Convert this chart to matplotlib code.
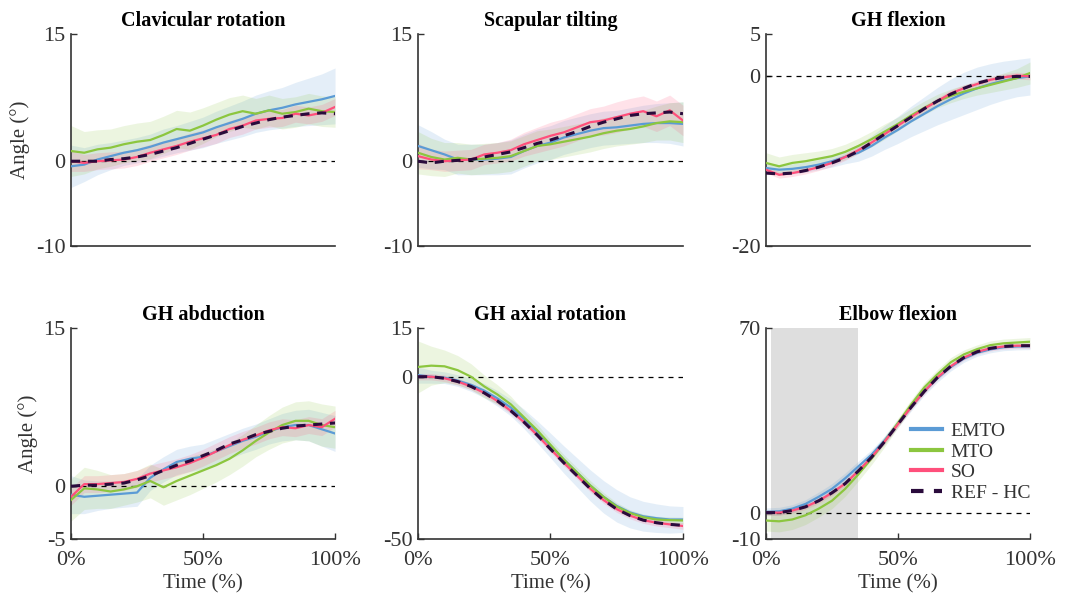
import numpy as np
import matplotlib
matplotlib.use("Agg")
from matplotlib import pyplot as plt

plt.rcParams['font.family'] = ['Liberation Serif', 'DejaVu Serif']

# time axis (% of movement), one sample every 5 %
t = np.arange(0, 101, 5)

titles = ['Clavicular rotation', 'Scapular tilting', 'GH flexion',
          'GH abduction', 'GH axial rotation', 'Elbow flexion']
ylims = [(-10, 15), (-10, 15), (-20, 5), (-5, 15), (-50, 15), (-10, 70)]

# mean curves per joint: EMTO, MTO, SO, REF - HC
emto = [
    [-0.6, -0.4, 0.2, 0.6, 1.0, 1.3, 1.7, 2.2, 2.6, 3.0, 3.4, 4.0, 4.5, 5.0, 5.6, 6.0, 6.3, 6.7, 7.0, 7.3, 7.7],
    [1.8, 1.3, 0.8, 0.2, 0.2, 0.2, 0.3, 0.5, 1.2, 1.8, 2.2, 2.8, 3.2, 3.6, 3.9, 4.0, 4.2, 4.4, 4.5, 4.5, 4.4],
    [-10.8, -11.0, -10.9, -10.7, -10.4, -10.0, -9.5, -9.0, -8.2, -7.2, -6.3, -5.3, -4.4, -3.5, -2.7, -2.0, -1.4, -0.9, -0.5, -0.2, 0.0],
    [-0.8, -1.0, -0.9, -0.8, -0.7, -0.6, 0.8, 1.6, 2.3, 2.6, 2.8, 3.3, 3.8, 4.3, 4.7, 5.2, 5.6, 5.8, 5.8, 5.4, 5.0],
    [0.5, 0.0, -0.3, -1.2, -2.5, -4.3, -6.7, -9.5, -13.0, -17.0, -21.2, -25.5, -29.5, -33.5, -37.0, -39.8, -41.8, -43.0, -43.6, -44.0, -44.0],
    [0.3, 0.5, 1.5, 3.3, 6.0, 9.0, 13.0, 17.5, 22.0, 27.5, 33.8, 40.0, 46.0, 51.0, 55.2, 58.4, 60.6, 61.9, 62.7, 63.0, 63.1],
]
mto = [
    [1.2, 1.0, 1.4, 1.6, 2.0, 2.3, 2.5, 3.1, 3.8, 3.6, 4.2, 4.9, 5.5, 5.9, 5.6, 6.0, 5.6, 5.8, 6.2, 5.9, 5.8],
    [1.0, 0.5, 0.2, 0.4, 0.2, 0.3, 0.4, 0.6, 1.2, 1.8, 2.0, 2.3, 2.6, 2.9, 3.3, 3.6, 3.8, 4.1, 4.5, 4.7, 4.6],
    [-10.2, -10.6, -10.2, -10.0, -9.7, -9.4, -8.9, -8.2, -7.4, -6.5, -5.6, -4.6, -3.7, -2.9, -2.3, -1.8, -1.4, -1.0, -0.6, -0.2, 0.4],
    [-1.3, -0.2, -0.3, -0.5, -0.3, 0.0, 0.5, -0.1, 0.5, 1.0, 1.5, 2.0, 2.6, 3.4, 4.3, 5.1, 5.8, 6.2, 6.2, 5.8, 5.6],
    [3.0, 3.4, 3.2, 2.0, 0.0, -3.0, -5.5, -8.5, -12.5, -16.5, -21.0, -25.5, -29.5, -33.5, -37.0, -40.0, -42.0, -43.3, -44.0, -44.2, -44.3],
    [-3.0, -3.3, -2.6, -1.0, 1.5, 4.5, 9.0, 14.5, 20.5, 27.0, 34.0, 41.0, 47.5, 52.5, 57.0, 60.0, 62.0, 63.5, 64.2, 64.5, 64.8],
]
so = [
    [0.0, -0.2, 0.0, 0.1, 0.2, 0.5, 1.0, 1.4, 1.8, 2.3, 2.7, 3.1, 3.8, 4.2, 4.8, 5.0, 5.1, 5.6, 5.4, 5.7, 6.4],
    [0.6, 0.2, 0.0, 0.1, 0.2, 0.8, 1.0, 1.3, 2.0, 2.5, 3.0, 3.4, 4.0, 4.6, 4.8, 5.2, 5.6, 5.9, 5.3, 6.0, 4.8],
    [-11.0, -11.6, -11.4, -11.1, -10.7, -10.2, -9.5, -8.7, -7.8, -6.8, -5.8, -4.8, -3.8, -2.9, -2.0, -1.4, -0.9, -0.4, -0.1, 0.1, 0.0],
    [-1.0, 0.2, 0.2, 0.3, 0.4, 0.7, 1.2, 1.5, 1.8, 2.2, 2.7, 3.3, 3.9, 4.4, 4.8, 5.3, 5.6, 5.5, 5.8, 5.6, 6.4],
    [0.0, 0.0, -0.5, -1.5, -3.0, -5.0, -7.5, -10.5, -14.0, -18.0, -22.3, -26.5, -30.5, -34.5, -38.0, -40.8, -42.8, -44.2, -45.0, -45.5, -46.0],
    [0.0, 0.0, 0.8, 2.2, 4.5, 7.5, 11.0, 15.8, 21.0, 27.0, 33.5, 40.0, 46.0, 51.3, 55.5, 58.8, 61.0, 62.3, 63.0, 63.3, 63.3],
]
ref = [
    [0.0, 0.0, 0.0, 0.2, 0.3, 0.5, 0.8, 1.2, 1.6, 2.1, 2.6, 3.1, 3.6, 4.1, 4.5, 4.9, 5.2, 5.4, 5.6, 5.7, 5.6],
    [0.0, -0.2, 0.0, 0.1, 0.2, 0.5, 0.8, 1.1, 1.6, 2.1, 2.5, 3.0, 3.5, 4.1, 4.6, 5.0, 5.4, 5.6, 5.7, 5.8, 5.6],
    [-11.4, -11.5, -11.4, -11.1, -10.7, -10.2, -9.6, -8.8, -7.8, -6.8, -5.8, -4.8, -3.8, -2.9, -2.1, -1.4, -0.8, -0.4, -0.1, 0.0, 0.0],
    [0.0, 0.1, 0.1, 0.2, 0.3, 0.6, 1.0, 1.5, 2.0, 2.4, 2.9, 3.4, 4.0, 4.4, 4.9, 5.2, 5.5, 5.7, 5.8, 5.9, 6.0],
    [0.0, 0.0, -0.5, -1.5, -3.0, -5.0, -7.5, -10.5, -14.0, -18.0, -22.3, -26.5, -30.5, -34.5, -38.0, -40.8, -42.8, -44.2, -45.0, -45.5, -45.8],
    [0.0, 0.0, 0.8, 2.2, 4.5, 7.5, 11.0, 15.8, 21.0, 27.0, 33.5, 40.0, 46.0, 51.3, 55.5, 58.8, 61.0, 62.3, 63.0, 63.3, 63.3],
]

# standard deviations (shaded bands)
emto_sd = [
    [2.5, 2.0, 1.8, 1.6, 1.5, 1.5, 1.5, 1.6, 1.6, 1.7, 1.8, 1.9, 2.0, 2.1, 2.2, 2.3, 2.4, 2.6, 2.8, 3.0, 3.3],
    [2.5, 2.2, 1.8, 1.8, 1.8, 1.8, 1.9, 2.0, 2.0, 2.0, 2.0, 2.0, 2.0, 2.0, 2.0, 2.0, 2.1, 2.2, 2.3, 2.4, 2.6],
    [0.6, 0.6, 0.6, 0.6, 0.6, 0.7, 0.8, 1.0, 1.2, 1.4, 1.6, 1.8, 2.0, 2.2, 2.4, 2.5, 2.5, 2.4, 2.3, 2.2, 2.2],
    [1.8, 1.6, 1.4, 1.3, 1.3, 1.3, 1.2, 1.2, 1.2, 1.2, 1.2, 1.2, 1.2, 1.2, 1.2, 1.2, 1.3, 1.4, 1.5, 1.6, 1.7],
    [2.5, 2.0, 1.8, 1.8, 2.0, 2.2, 2.4, 2.6, 3.0, 3.4, 3.8, 4.2, 4.5, 4.8, 5.0, 5.0, 4.8, 4.6, 4.4, 4.2, 4.0],
    [1.5, 1.5, 1.5, 1.6, 1.8, 2.0, 2.0, 2.0, 1.8, 1.6, 1.5, 1.5, 1.5, 1.5, 1.5, 1.4, 1.3, 1.3, 1.3, 1.3, 1.3],
]
mto_sd = [
    [3.0, 2.5, 2.3, 2.2, 2.2, 2.2, 2.2, 2.2, 2.2, 2.2, 2.1, 2.0, 2.0, 1.9, 1.8, 1.8, 1.8, 1.8, 1.8, 1.8, 1.8],
    [2.5, 2.2, 2.0, 1.8, 1.8, 1.8, 1.8, 1.8, 1.8, 1.8, 1.8, 1.8, 1.8, 1.8, 1.8, 1.8, 1.8, 1.9, 2.0, 2.2, 2.4],
    [1.2, 1.1, 1.0, 1.0, 0.9, 0.9, 0.9, 0.9, 0.9, 0.9, 0.8, 0.8, 0.8, 0.8, 0.8, 0.8, 0.8, 0.9, 1.0, 1.1, 1.3],
    [2.0, 2.0, 1.8, 1.6, 1.5, 1.5, 1.6, 1.7, 1.8, 1.8, 1.7, 1.6, 1.5, 1.5, 1.5, 1.6, 1.7, 1.8, 1.9, 2.0, 2.0],
    [8.0, 6.0, 5.0, 4.5, 4.0, 3.5, 3.0, 2.5, 2.0, 1.8, 1.5, 1.5, 1.5, 1.5, 1.3, 1.2, 1.0, 1.0, 1.0, 1.0, 1.0],
    [4.0, 4.0, 3.8, 3.5, 3.2, 3.0, 2.8, 2.5, 2.3, 2.0, 1.8, 1.8, 1.8, 1.8, 1.8, 1.7, 1.6, 1.6, 1.6, 1.6, 1.6],
]
so_sd = [
    [1.2, 1.0, 1.0, 1.0, 1.0, 1.0, 1.0, 1.0, 1.0, 1.0, 1.0, 1.0, 1.0, 1.0, 1.0, 1.0, 1.0, 1.0, 1.0, 1.0, 1.0],
    [1.5, 1.2, 1.2, 1.2, 1.2, 1.2, 1.2, 1.3, 1.4, 1.5, 1.6, 1.6, 1.6, 1.6, 1.7, 1.8, 1.8, 1.8, 1.8, 1.8, 1.8],
    [0.4, 0.4, 0.4, 0.4, 0.4, 0.4, 0.4, 0.4, 0.4, 0.4, 0.4, 0.4, 0.4, 0.4, 0.4, 0.4, 0.4, 0.4, 0.4, 0.4, 0.4],
    [0.8, 0.8, 0.8, 0.8, 0.8, 0.8, 0.8, 0.8, 0.8, 0.8, 0.8, 0.8, 0.8, 0.8, 0.8, 0.8, 0.8, 0.8, 0.8, 0.8, 0.8],
    [1.0, 1.0, 1.0, 1.0, 1.0, 1.0, 1.0, 1.0, 1.0, 1.0, 1.0, 1.0, 1.0, 1.0, 1.0, 1.0, 1.0, 1.0, 1.0, 1.0, 1.0],
    [1.0, 1.0, 1.0, 1.0, 1.0, 1.0, 1.0, 1.0, 1.0, 1.0, 1.0, 1.0, 1.0, 1.0, 1.0, 1.0, 1.0, 1.0, 1.0, 1.0, 1.0],
]

# shaded phase on the elbow panel (% of movement)
phase = (2, 35)

c_emto = '#5b9bd5'
c_mto = '#8cc63f'
c_so = '#ff4f7b'
c_ref = '#2a0b3c'
spine_col = '#333333'

fig = plt.figure(figsize=(10.65, 5.99), dpi=100)
lefts = [0.0667, 0.3925, 0.7192]
widths = [0.2479, 0.2488, 0.2479]
bottoms = [0.5893, 0.1002]
heights = [0.3539, 0.3522]

for k in range(6):
    r, c = divmod(k, 3)
    ax = fig.add_axes([lefts[c], bottoms[r], widths[c], heights[r]])
    lo, hi = ylims[k]

    if k == 5:
        ax.axvspan(phase[0], phase[1], color='#dedede', lw=0, zorder=0)

    for m, s, col in [(emto[k], emto_sd[k], c_emto),
                      (mto[k], mto_sd[k], c_mto),
                      (so[k], so_sd[k], c_so)]:
        m = np.array(m)
        s = np.array(s)
        ax.fill_between(t, m - s, m + s, color=col, alpha=0.16, lw=0, zorder=1)

    ax.plot([0, 100], [0, 0], color='k', lw=0.9, ls=(0, (4, 4)), zorder=2)

    ax.plot(t, emto[k], color=c_emto, lw=1.6, zorder=3, label='EMTO')
    ax.plot(t, mto[k], color=c_mto, lw=1.6, zorder=3, label='MTO')
    ax.plot(t, so[k], color=c_so, lw=1.6, zorder=4, label='SO')
    ax.plot(t, ref[k], color=c_ref, lw=2.2, ls=(0, (3, 2.5)), zorder=5, label='REF - HC')

    ax.set_xlim(0, 100)
    ax.set_ylim(lo, hi)
    ax.set_yticks([lo, 0, hi])
    ax.set_yticklabels([str(lo), '0', str(hi)])
    if r == 0:
        ax.set_xticks([])
    else:
        ax.set_xticks([0, 50, 100])
        ax.set_xticklabels(['0%', '50%', '100%'])
        ax.set_xlabel('Time (%)', fontsize=15, color='#333333', labelpad=3)
    if c == 0:
        ax.set_ylabel('Angle (°)', fontsize=15, color='#333333', labelpad=4)

    ax.set_title(titles[k], fontsize=14.5, fontweight='bold', pad=6)
    for side in ['top', 'right']:
        ax.spines[side].set_visible(False)
    for side in ['left', 'bottom']:
        ax.spines[side].set_color(spine_col)
        ax.spines[side].set_linewidth(1.2)
    ax.tick_params(direction='in', length=4, width=1, colors=spine_col,
                   labelsize=16)
    ax.tick_params(axis='y', pad=4)
    ax.tick_params(axis='x', pad=9)
    ax.set_facecolor('none')

    if k == 5:
        handles, labels = ax.get_legend_handles_labels()
        leg = ax.legend(handles, labels, loc='lower right', frameon=False,
                        fontsize=14, handlelength=1.6, handletextpad=0.45,
                        labelspacing=0.15, borderaxespad=0,
                        bbox_to_anchor=(1.03, 0.14))
        for ln in leg.get_lines():
            ln.set_linewidth(3.0)
        for txt in leg.get_texts():
            txt.set_color('#333333')

fig.savefig('out.png', dpi=100)
